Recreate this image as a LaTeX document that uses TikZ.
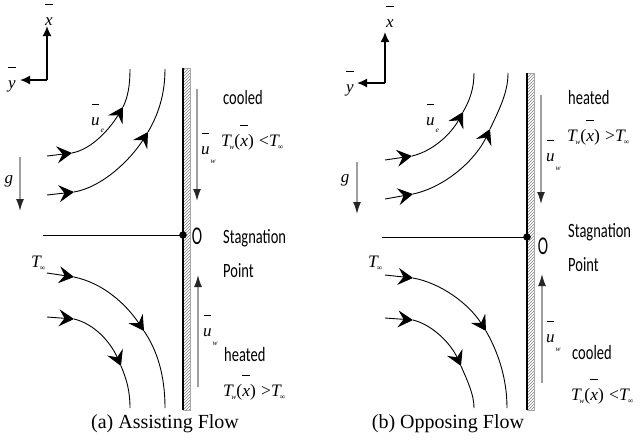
\documentclass[tikz,border=0pt]{standalone}
\usepackage{fontspec}
\setmainfont{Liberation Serif}
\newfontfamily\sansf{Carlito}
\usetikzlibrary{arrows.meta,patterns}
\newcommand\ob[1]{{\setbox0\hbox{\itshape #1}\vbox{\hbox to\wd0{\hss\vrule width .42em height .7pt\hss}\kern1.8pt\box0}}}
\newcommand\subsc[2]{\raisebox{#1}{\fontsize{7.5}{8}\selectfont\itshape #2}}
\newcommand\Tw{{\itshape T}\kern-1.5pt\subsc{-3pt}{w}}
\newcommand\Tinf{{\itshape T}\kern-1pt\subsc{-3pt}{\upshape ∞}}
\newcommand\tall[1]{\scalebox{1}[1.4]{#1}}
\tikzset{
 stream/.style={line width=0.9pt},
 tipS/.style={-{Stealth[length=15pt,width=17pt,inset=5.5pt]}},
 garrow/.style={draw=gray!75, line width=1.4pt, -{Latex[length=12pt,width=8pt,color=black!85]}},
 axarrow/.style={line width=1.6pt,-{Latex[length=10pt,width=9pt]}},
 wall/.style={pattern=north east lines, pattern color=gray, draw=gray!70, line width=0.4pt},
 wedge/.style={line width=1.2pt},
 sans/.style={font=\sansf\fontsize{14.5}{16}\selectfont, inner sep=0pt},
 serif/.style={font=\fontsize{17.5}{19}\selectfont, inner sep=0pt},
 lab/.style={font=\fontsize{17}{19}\selectfont, inner sep=0pt},
 caption/.style={font=\fontsize{20}{22}\selectfont, inner sep=0pt},
 dot/.style={circle, fill=black, inner sep=0pt, minimum size=7.5pt},
 bigO/.style={font=\sansf\fontsize{15.5}{18}\selectfont, inner sep=0pt},
}
\begin{document}
\begin{tikzpicture}[x=1pt,y=-1pt]
\useasboundingbox (0,0) rectangle (644,440);
% ================= Panel (a) =================
\coordinate (oa) at (47,80);
\coordinate (xa) at (47,26);
\coordinate (ya) at (20,80);
\draw[axarrow] (oa) -- (xa);
\draw[axarrow] (oa) -- (ya);
\node[lab] (xla) at (49,15) {\ob{x}};
\node[lab] (yla) at (12,80) {\ob{y}};
\path[wall] (183,68) rectangle (190,410);
\coordinate (wta) at (183,68);
\coordinate (wba) at (183,410);
\draw[wedge] (wta) -- (wba);
\node[dot] (da) at (183,235) {};
\coordinate (ha) at (43,235);
\draw[stream] (ha) -- (da.center);
\node[bigO] (Oa) at (197,236) {\scalebox{1}[1.65]{O}};
\node[sans,anchor=west] (sta) at (223,238) {\tall{Stagnation}};
\node[sans,anchor=west] (pta) at (223,271) {\tall{Point}};
\coordinate (a1s) at (47,156); \coordinate (a1p) at (72,153);
\coordinate (a1q) at (123,107); \coordinate (a1e) at (130,69);
\draw[stream,tipS] (a1s) -- (a1p);
\draw[stream,tipS] (a1p) .. controls (93,149) and (111,127) .. (a1q);
\draw[stream] (a1q) .. controls (128,97) and (130,85) .. (a1e);
\coordinate (a2s) at (47,195); \coordinate (a2p) at (74,192);
\coordinate (a2q) at (148,132); \coordinate (a2e) at (165,69);
\draw[stream,tipS] (a2s) -- (a2p);
\draw[stream,tipS] (a2p) .. controls (103,187) and (131,159) .. (a2q);
\draw[stream] (a2q) .. controls (158,115) and (165,95) .. (a2e);
\coordinate (a3s) at (47,273); \coordinate (a3p) at (74,277);
\coordinate (a3q) at (144,331); \coordinate (a3e) at (165,408);
\draw[stream,tipS] (a3s) -- (a3p);
\draw[stream,tipS] (a3p) .. controls (103,283) and (126,304) .. (a3q);
\draw[stream] (a3q) .. controls (157,350) and (165,375) .. (a3e);
\coordinate (a4s) at (47,317); \coordinate (a4p) at (74,319);
\coordinate (a4q) at (121,366); \coordinate (a4e) at (130,408);
\draw[stream,tipS] (a4s) -- (a4p);
\draw[stream,tipS] (a4p) .. controls (95,324) and (111,343) .. (a4q);
\draw[stream] (a4q) .. controls (127,380) and (130,392) .. (a4e);
\node[lab,anchor=west] (uea) at (91,118) {\ob{u}\kern1pt\subsc{-7pt}{e}};
\coordinate (ga1) at (20,157); \coordinate (ga2) at (20,211);
\draw[garrow] (ga1) -- (ga2);
\node[lab,font=\itshape\fontsize{17}{19}\selectfont] (gla) at (9,181) {g};
\coordinate (uwa1) at (197,89); \coordinate (uwa2) at (197,201);
\draw[garrow] (uwa1) -- (uwa2);
\node[lab,anchor=west] (uwla) at (201,148) {\ob{u}\kern1pt\subsc{-9pt}{w}};
\node[sans,anchor=west] (cooa) at (223,98) {\tall{cooled}};
\node[serif,anchor=west] (tla) at (221,138) {\Tw(\ob{x}) \kern1pt<\Tinf};
\coordinate (uwb1) at (198,387); \coordinate (uwb2) at (198,275);
\draw[garrow] (uwb1) -- (uwb2);
\node[lab,anchor=west] (uwlb) at (203,330) {\ob{u}\kern1pt\subsc{-9pt}{w}};
\node[serif,anchor=west] (Tia) at (31,263) {\Tinf};
\node[sans,anchor=west] (hea) at (224,355) {\tall{heated}};
\node[serif,anchor=west] (tga) at (223,388) {\Tw(\ob{x}) \kern1pt>\Tinf};
\node[caption] (capa) at (165,424) {(a) Assisting Flow};
% ================= Panel (b) =================
\coordinate (ob) at (385,83);
\coordinate (xb) at (385,32);
\coordinate (yb) at (357,83);
\draw[axarrow] (ob) -- (xb);
\draw[axarrow] (ob) -- (yb);
\node[lab] (xlb) at (390,17) {\ob{x}};
\node[lab] (ylb) at (350,84) {\ob{y}};
\path[wall] (527,73) rectangle (534,410);
\coordinate (wtb) at (527,73);
\coordinate (wbb) at (527,410);
\draw[wedge] (wtb) -- (wbb);
\node[dot] (db) at (527,237) {};
\coordinate (hb) at (382,237);
\draw[stream] (hb) -- (db.center);
\node[bigO] (Ob) at (543,246) {\scalebox{1}[1.65]{O}};
\node[sans,anchor=west] (stb) at (568,232) {\tall{Stagnation}};
\node[sans,anchor=west] (ptb) at (568,265) {\tall{Point}};
\coordinate (b1s) at (385,160); \coordinate (b1p) at (412,156);
\coordinate (b1q) at (463,112); \coordinate (b1e) at (474,73);
\draw[stream,tipS] (b1s) -- (b1p);
\draw[stream,tipS] (b1p) .. controls (433,151) and (451,134) .. (b1q);
\draw[stream] (b1q) .. controls (470,100) and (474,88) .. (b1e);
\coordinate (b2s) at (385,199); \coordinate (b2p) at (413,194);
\coordinate (b2q) at (490,129); \coordinate (b2e) at (508,73);
\draw[stream,tipS] (b2s) -- (b2p);
\draw[stream,tipS] (b2p) .. controls (446,187) and (476,159) .. (b2q);
\draw[stream] (b2q) .. controls (500,108) and (508,92) .. (b2e);
\coordinate (b3s) at (385,275); \coordinate (b3p) at (413,278);
\coordinate (b3q) at (486,331); \coordinate (b3e) at (507,408);
\draw[stream,tipS] (b3s) -- (b3p);
\draw[stream,tipS] (b3p) .. controls (441,283) and (469,304) .. (b3q);
\draw[stream] (b3q) .. controls (498,352) and (507,378) .. (b3e);
\coordinate (b4s) at (385,318); \coordinate (b4p) at (413,320);
\coordinate (b4q) at (461,366); \coordinate (b4e) at (474,408);
\draw[stream,tipS] (b4s) -- (b4p);
\draw[stream,tipS] (b4p) .. controls (433,325) and (451,344) .. (b4q);
\draw[stream] (b4q) .. controls (468,382) and (474,395) .. (b4e);
\node[lab,anchor=west] (ueb) at (426,118) {\ob{u}\kern1pt\subsc{-7pt}{e}};
\coordinate (gb1) at (357,162); \coordinate (gb2) at (357,214);
\draw[garrow] (gb1) -- (gb2);
\node[lab,font=\itshape\fontsize{17}{19}\selectfont] (glb) at (345,180) {g};
\coordinate (uwc1) at (541,95); \coordinate (uwc2) at (541,204);
\draw[garrow] (uwc1) -- (uwc2);
\node[lab,anchor=west] (uwlc) at (546,155) {\ob{u}\kern1pt\subsc{-9pt}{w}};
\node[sans,anchor=west] (heb) at (568,98) {\tall{heated}};
\node[serif,anchor=west] (tgb) at (567,133) {\Tw(\ob{x}) \kern1pt>\Tinf};
\coordinate (uwd1) at (542,383); \coordinate (uwd2) at (542,274);
\draw[garrow] (uwd1) -- (uwd2);
\node[lab,anchor=west] (uwld) at (546,336) {\ob{u}\kern1pt\subsc{-9pt}{w}};
\node[serif,anchor=west] (Tib) at (368,263) {\Tinf};
\node[sans,anchor=west] (cob) at (572,353) {\tall{cooled}};
\node[serif,anchor=west] (tlb) at (571,392) {\Tw(\ob{x}) \kern1pt<\Tinf};
\node[caption] (capb) at (448,424) {(b) Opposing Flow};
\end{tikzpicture}
\end{document}
